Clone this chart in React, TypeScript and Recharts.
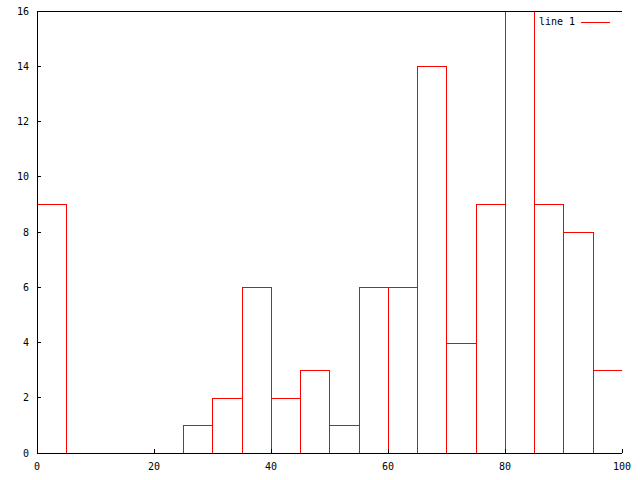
import React from 'react';
import { BarChart, Bar, XAxis, YAxis, ReferenceLine } from 'recharts';

const binCenters = [2.5, 7.5, 12.5, 17.5, 22.5, 27.5, 32.5, 37.5, 42.5, 47.5, 52.5, 57.5, 62.5, 67.5, 72.5, 77.5, 82.5, 87.5, 92.5, 97.5];
const counts = [9, 0, 0, 0, 0, 1, 2, 6, 2, 3, 1, 6, 6, 14, 4, 9, 16, 9, 8, 3];
const xTicks = [0, 20, 40, 60, 80, 100];
const yTicks = [0, 2, 4, 6, 8, 10, 12, 14, 16];
const xMax = 100;
const yMax = 16;
const binWidth = 5;
const seriesName = 'line 1';

const data = binCenters.map((x, i) => ({ x, count: counts[i] }));

const CHART_W = 640;
const CHART_H = 480;
const M_LEFT = 37;
const M_RIGHT = 18;
const M_TOP = 11;
const M_BOTTOM = 27;
const pxPerUnit = (CHART_W - M_LEFT - M_RIGHT) / xMax;

const FONT = '"DejaVu Sans Mono", "Liberation Mono", monospace';
const tickStyle = { fontFamily: FONT, fontSize: 10, fill: '#000' };

const BoxShape = (props: any) => {
  const { x, y, width, height } = props;
  if (!height) return null;
  const center = x + width / 2;
  const half = (binWidth / 2) * pxPerUnit;
  const x1 = Math.round(center - half) + 0.5;
  const x2 = Math.round(center + half) + 0.5;
  const y1 = Math.round(y) + 0.5;
  const y2 = Math.round(y + height) + 0.5;
  return (
    <rect x={x1} y={y1} width={x2 - x1} height={y2 - y1} fill="none" stroke="#ff0000" strokeWidth={1} />
  );
};

const axisLineStyle = { stroke: '#000', shapeRendering: 'crispEdges' as const };

export default function App() {
  return (
    <div style={{ position: 'absolute', left: 0, top: 0, width: CHART_W, height: CHART_H, background: '#fff' }}>
      <BarChart
        width={CHART_W}
        height={CHART_H}
        data={data}
        margin={{ top: M_TOP, right: M_RIGHT, bottom: 0, left: 0 }}
        barCategoryGap={0}
        barGap={0}
        style={{ fontFamily: FONT }}
      >
        <Bar dataKey="count" name={seriesName} shape={<BoxShape />} isAnimationActive={false} />
        <XAxis
          dataKey="x"
          type="number"
          domain={[0, xMax]}
          ticks={xTicks}
          height={M_BOTTOM}
          tickSize={-4}
          tickMargin={14}
          tick={tickStyle}
          axisLine={axisLineStyle}
          tickLine={axisLineStyle}
          allowDataOverflow
        />
        <XAxis
          xAxisId="top"
          orientation="top"
          type="number"
          domain={[0, xMax]}
          ticks={xTicks}
          height={0}
          tickSize={-4}
          tick={false}
          axisLine={axisLineStyle}
          tickLine={axisLineStyle}
          allowDataOverflow
        />
        <YAxis
          type="number"
          domain={[0, yMax]}
          ticks={yTicks}
          width={M_LEFT}
          tickSize={-4}
          tickMargin={12}
          tick={tickStyle}
          axisLine={axisLineStyle}
          tickLine={axisLineStyle}
          allowDataOverflow
        />
        <YAxis
          yAxisId="right"
          orientation="right"
          type="number"
          domain={[0, yMax]}
          ticks={yTicks}
          width={0}
          tickSize={-4}
          tick={false}
          axisLine={axisLineStyle}
          tickLine={axisLineStyle}
          allowDataOverflow
        />
        <ReferenceLine y={yMax} stroke="#000" shapeRendering="crispEdges" zIndex={1000} />
      </BarChart>
      <div
        style={{
          position: 'absolute',
          left: 539,
          top: 15,
          display: 'flex',
          alignItems: 'center',
          fontFamily: FONT,
          fontSize: 10,
          lineHeight: '14px',
          color: '#000',
        }}
      >
        <span>{seriesName}</span>
        <svg width={36} height={14} style={{ marginLeft: 6 }}>
          <line x1={0} y1={7} x2={29} y2={7} stroke="#ff0000" strokeWidth={1} shapeRendering="crispEdges" />
        </svg>
      </div>
    </div>
  );
}
